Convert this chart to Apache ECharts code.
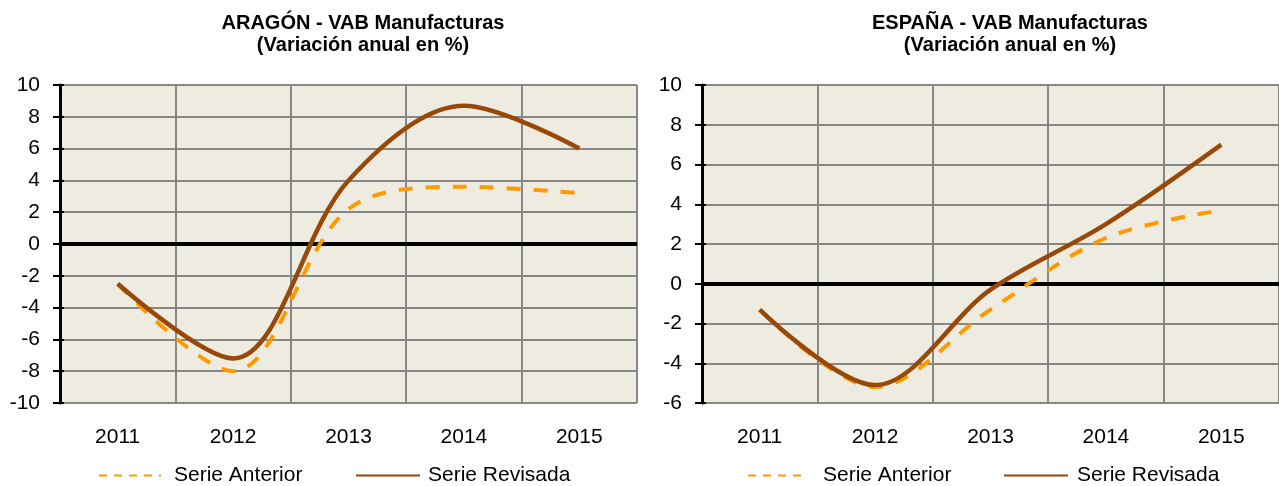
<!DOCTYPE html>
<html>
<head>
<meta charset="utf-8">
<title>VAB Manufacturas</title>
<script src="https://cdn.jsdelivr.net/npm/echarts@6/dist/echarts.min.js"></script>
<style>
  html, body { margin: 0; padding: 0; background: #ffffff; }
  #chart { width: 1279px; height: 486px; }
</style>
</head>
<body>
<div id="chart"></div>
<script>
// Annual growth of manufacturing GVA (%), previous vs revised series
const years = ['2011', '2012', '2013', '2014', '2015'];
const aragonAnterior = [-2.5, -8.0, 2.2, 3.6, 3.2];
const aragonRevisada = [-2.5, -7.2, 4.0, 8.7, 6.0];
const espanaAnterior = [-1.3, -5.2, -1.3, 2.3, 3.7];
const espanaRevisada = [-1.3, -5.1, -0.3, 3.0, 7.0];

const aragonTicks = { min: -10, max: 10, interval: 2 };
const espanaTicks = { min: -6, max: 10, interval: 2 };

const FONT = "'Liberation Sans', Arial, sans-serif";
const COL_ANT = '#FF9900';
const COL_REV = '#984807';
const GRID_COL = '#878787';

const chart = echarts.init(document.getElementById('chart'), null, { renderer: 'canvas' });

function valueAxis(gridIndex, ticks) {
  return {
    type: 'value', gridIndex: gridIndex, position: 'left',
    min: ticks.min, max: ticks.max, interval: ticks.interval,
    axisLine: { show: true, lineStyle: { color: '#000', width: 3 } },
    axisTick: { show: true, inside: false, length: 7, lineStyle: { color: '#000', width: 2 } },
    axisLabel: { color: '#000', fontSize: 21, fontFamily: FONT, margin: 20 },
    splitLine: { show: true, lineStyle: { color: GRID_COL, width: 2 } }
  };
}
// second axis on the same grid: inner half of the crossing tick marks
function innerTickAxis(gridIndex, ticks) {
  return {
    type: 'value', gridIndex: gridIndex, position: 'left',
    min: ticks.min, max: ticks.max, interval: ticks.interval,
    axisLine: { show: false },
    axisTick: { show: true, inside: true, length: 4, lineStyle: { color: '#000', width: 2 } },
    axisLabel: { show: false },
    splitLine: { show: false }
  };
}
function categoryAxis(gridIndex) {
  return {
    type: 'category', gridIndex: gridIndex, data: years, boundaryGap: true,
    position: 'bottom',
    axisLine: { show: false, onZero: false },
    axisTick: { show: false },
    axisLabel: { color: '#000', fontSize: 21, fontFamily: FONT, margin: 24, interval: 0 },
    splitLine: { show: true, interval: 0, lineStyle: { color: GRID_COL, width: 2 } }
  };
}
function seriesPair(xi, yi, anterior, revisada) {
  return [
    {
      name: 'Serie Anterior', type: 'line', xAxisIndex: xi, yAxisIndex: yi,
      data: anterior, smooth: 0.333, smoothConstraint: false, symbol: 'none',
      lineStyle: { color: COL_ANT, width: 4, type: [14, 13] },
      itemStyle: { color: COL_ANT }, z: 3
    },
    {
      name: 'Serie Revisada', type: 'line', xAxisIndex: xi, yAxisIndex: yi,
      data: revisada, smooth: 0.333, smoothConstraint: false, symbol: 'none',
      lineStyle: { color: COL_REV, width: 4.5 },
      itemStyle: { color: COL_REV }, z: 4,
      markLine: {
        silent: true, symbol: 'none', z: 1, animation: false,
        label: { show: false },
        lineStyle: { color: '#000', width: 4, type: 'solid' },
        data: [{ yAxis: 0 }]
      }
    }
  ];
}
function legendItem(name, left, width, gap, lineType) {
  return {
    data: [name], left: left, top: 465, orient: 'horizontal', padding: 0,
    itemWidth: width, itemHeight: 12, selectedMode: false,
    itemStyle: { opacity: 0, borderWidth: 0 },
    lineStyle: { width: 2, type: lineType, opacity: 1 },
    textStyle: { color: '#000', fontSize: 21, fontFamily: FONT, padding: [0, 0, 0, gap] }
  };
}

const titleStyle = { color: '#000', fontSize: 20, fontWeight: 'bold', fontFamily: FONT, lineHeight: 22 };

chart.setOption({
  animation: false,
  backgroundColor: '#ffffff',
  title: [
    { text: 'ARAGÓN - VAB Manufacturas\n(Variación anual en %)', left: 358, top: 7,
      textAlign: 'center', textStyle: titleStyle },
    { text: 'ESPAÑA - VAB Manufacturas\n(Variación anual en %)', left: 1005, top: 7,
      textAlign: 'center', textStyle: titleStyle }
  ],
  legend: [
    legendItem('Serie Anterior', 98, 62, 8, [8, 7]),
    legendItem('Serie Revisada', 355, 64, 3, 'solid'),
    legendItem('Serie Anterior', 747, 60, 10, [8, 7]),
    legendItem('Serie Revisada', 1003, 64, 4, 'solid')
  ],
  grid: [
    { left: 60, top: 85, width: 577, height: 318, show: true, backgroundColor: '#EEECE1', borderWidth: 0 },
    { left: 702, top: 85, width: 577, height: 318, show: true, backgroundColor: '#EEECE1', borderWidth: 0 }
  ],
  xAxis: [categoryAxis(0), categoryAxis(1)],
  yAxis: [
    valueAxis(0, aragonTicks), innerTickAxis(0, aragonTicks),
    valueAxis(1, espanaTicks), innerTickAxis(1, espanaTicks)
  ],
  series: [].concat(
    seriesPair(0, 0, aragonAnterior, aragonRevisada),
    seriesPair(1, 2, espanaAnterior, espanaRevisada)
  )
});
</script>
</body>
</html>
